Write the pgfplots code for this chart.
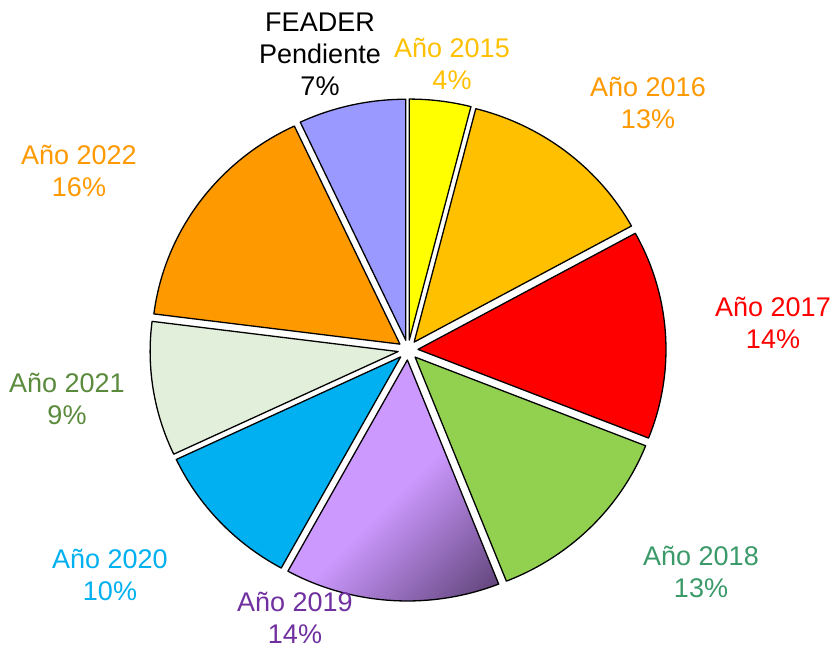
\documentclass[border=0pt]{standalone}
\usepackage{pgfplots}
\pgfplotsset{compat=1.18}
\usepackage{pgfplotstable}
\usepackage{fontspec}
\setmainfont{Liberation Sans}

\definecolor{c15}{HTML}{FFFF00}
\definecolor{c16}{HTML}{FFC000}
\definecolor{c17}{HTML}{FF0000}
\definecolor{c18}{HTML}{92D050}
\definecolor{c19}{HTML}{CC99FF}
\definecolor{c19d}{HTML}{5A3E72}
\definecolor{c20}{HTML}{00B0F0}
\definecolor{c21}{HTML}{E2EFDA}
\definecolor{c22}{HTML}{FF9900}
\definecolor{cF}{HTML}{9999FF}

\definecolor{t15}{HTML}{FFC000}
\definecolor{t16}{HTML}{FF9900}
\definecolor{t17}{HTML}{FF0000}
\definecolor{t18}{HTML}{3A9A6A}
\definecolor{t19}{HTML}{7030A0}
\definecolor{t20}{HTML}{00B0F0}
\definecolor{t21}{HTML}{5A8A3C}
\definecolor{t22}{HTML}{FF9900}

\pgfdeclarehorizontalshading{purpsh}{100bp}{color(0bp)=(c19); color(52bp)=(c19); color(84bp)=(c19d); color(100bp)=(c19d)}

\tikzset{
  s15/.style={fill=c15},
  s16/.style={fill=c16},
  s17/.style={fill=c17},
  s18/.style={fill=c18},
  s19/.style={shade, shading=purpsh, shading angle=-45},
  s20/.style={fill=c20},
  s21/.style={fill=c21},
  s22/.style={fill=c22},
  sF/.style={fill=cF},
}

% slices clockwise from 12 o'clock
\pgfplotstableread[col sep=comma]{
name,value,sty
2015,4,s15
2016,13,s16
2017,14,s17
2018,13,s18
2019,14,s19
2020,10,s20
2021,9,s21
2022,16,s22
FEADER,7,sF
}\pietable

\begin{document}
\begin{tikzpicture}
\begin{axis}[
  name=ax,
  scale only axis, width=837pt, height=649pt,
  xmin=0, xmax=837, ymin=0, ymax=649,
  hide axis, clip=false,
]
\gdef\cum{0}
\pgfplotsforeachungrouped \i in {0,...,8}{%
  \pgfplotstablegetelem{\i}{value}\of\pietable
  \let\val\pgfplotsretval
  \pgfplotstablegetelem{\i}{sty}\of\pietable
  \let\sty\pgfplotsretval
  \pgfmathsetmacro\sa{90-3.6*\cum}%
  \pgfmathsetmacro\ea{90-3.6*(\cum+\val)}%
  \pgfmathsetmacro\ma{(\sa+\ea)/2}%
  \pgfmathsetmacro\vx{408+10*cos(\ma)}%
  \pgfmathsetmacro\vy{299+10*sin(\ma)}%
  \pgfmathsetmacro\newcum{\cum+\val}%
  \xdef\cum{\newcum}%
  \edef\cmd{\noexpand\path[\sty, draw=black, line width=1.3pt, line join=round]
    (axis cs:\vx,\vy) -- ++(\sa:248pt and 241pt)
    arc[start angle=\sa, end angle=\ea, x radius=248pt, y radius=241pt] -- cycle;}%
  \cmd
}

\tikzset{lab/.style={align=center, font=\fontsize{27}{32}\selectfont}}
\node[lab, text=black] at (axis cs:320,595) {FEADER\\Pendiente\\7\%};
\node[lab, text=t15] at (axis cs:452,585) {Año 2015\\4\%};
\node[lab, text=t16] at (axis cs:648,546) {Año 2016\\13\%};
\node[lab, text=t17] at (axis cs:773,326) {Año 2017\\14\%};
\node[lab, text=t18] at (axis cs:701,77) {Año 2018\\13\%};
\node[lab, text=t19] at (axis cs:295,31) {Año 2019\\14\%};
\node[lab, text=t20] at (axis cs:110,74) {Año 2020\\10\%};
\node[lab, text=t21] at (axis cs:67,250) {Año 2021\\9\%};
\node[lab, text=t22] at (axis cs:79,478) {Año 2022\\16\%};
\end{axis}
\pgfresetboundingbox
\path (ax.south west) rectangle (ax.north east);
\end{tikzpicture}
\end{document}
